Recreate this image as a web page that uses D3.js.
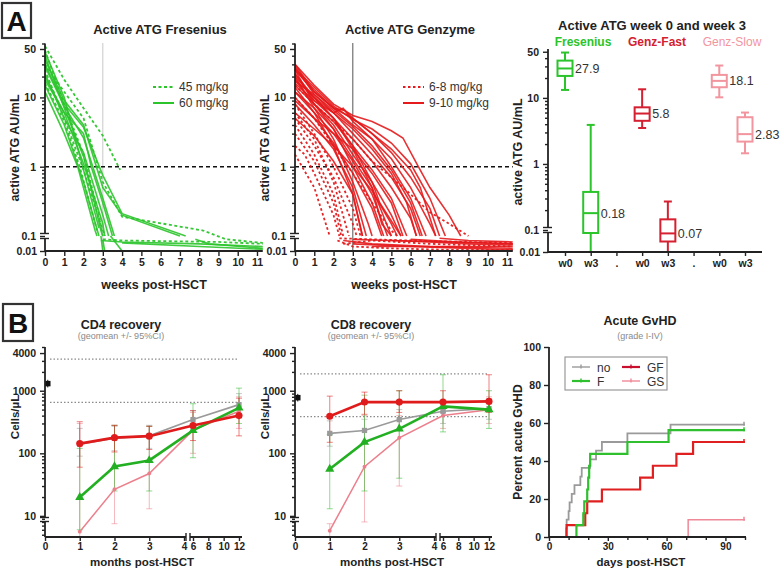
<!DOCTYPE html>
<html><head><meta charset="utf-8">
<script src="https://cdn.jsdelivr.net/npm/d3@7"></script>
<style>
body{margin:0;background:#fff;}
svg{font-family:"Liberation Sans",Arial,sans-serif;}
</style></head><body>
<svg id="c" width="780" height="578"></svg>
<script>
// ---------------- DATA ----------------
// Panel A1: active ATG Fresenius, [week, AU/mL]
const fresenius60 = [
 [[0,30],[1,8],[2,3.7],[3,0.75],[4,0.21],[7.3,0.1]],
 [[0,20],[1,6],[2,1.1],[3,0.15],[3.1,0.1]],
 [[0,40],[1,7],[2,1.4],[2.9,0.12],[3,0.1]],
 [[0,15],[1,4],[2,0.6],[2.8,0.1]],
 [[0,12],[1,3],[1.7,1],[2.6,0.12],[2.7,0.1]],
 [[0,28],[1,7.5],[2,2.6],[3,0.35],[3.6,0.1]],
 [[0,22],[1,5],[2,1.6],[3,0.2],[3.3,0.1]],
 [[0,45],[1,10],[2,0.9],[2.8,0.13]],
 [[0,18],[1,6],[2,3],[2.4,1],[3,0.3],[3.5,0.1]],
 [[0,35],[1,9],[2,4],[3,0.5],[4,0.2],[7,0.1]],
 [[2.9,0.05],[4,0.04],[8,0.03],[11.3,0.02]],
 [[3,0.05],[3.1,0.01]],
 [[2.9,0.1],[3,0.01]],
 [[3.4,0.1],[4,0.01]],
 [[7.8,0.06],[8.5,0.03],[11.3,0.015]],
 [[4,0.035],[8,0.02],[11.3,0.013]]
];
const fresenius45 = [
 [[0,55],[1,18],[2,7],[3,2.8],[3.9,0.9]],
 [[0,30],[1,12],[2,5],[3,0.6],[4,0.19],[8.2,0.12],[9.4,0.06],[11.3,0.035]],
 [[0,25],[1,5],[2,0.9],[3,0.12],[3.1,0.1]],
 [[0,16],[1,4.5],[1.8,1],[2.7,0.12]],
 [[0,48],[1,8],[2,1.5],[2.8,0.2],[3,0.1]],
 [[3,0.06],[4,0.05],[9,0.04],[11.3,0.03]]
];
// Panel A2: active ATG Genzyme
const genzyme910 = [
 [[0,30],[1,15],[2,8],[3,5.5],[4,4.5],[5,3.3],[5.6,2.6],[6.4,1],[7,0.5],[8,0.2],[8.6,0.1]],
 [[0,25],[1,12],[2,7],[3,5],[4,3],[5,1.6],[6,0.7],[7,0.25],[7.5,0.1]],
 [[0,20],[1,10],[2,6],[2.5,7],[3,4.5],[4,2.5],[5,1],[6,0.35],[6.8,0.1]],
 [[0,28],[1,11],[2,6],[3,3],[4,1.5],[5,0.7],[6,0.25],[6.5,0.1]],
 [[0,22],[1,9],[2,5],[3,2],[4,0.9],[5,0.35],[5.8,0.1]],
 [[0,18],[1,10],[2,5],[3,2.5],[4,1.2],[5,0.5],[6,0.18],[6.3,0.1]],
 [[0,15],[1,8],[2,4],[3,1.5],[4,0.6],[5,0.2],[5.5,0.1]],
 [[0,12],[1,6],[2,3],[3,1.2],[4,0.4],[4.8,0.1]],
 [[0,25],[1,8],[2,3.5],[3,1],[4,0.3],[4.6,0.1]],
 [[0,10],[1,5],[2,2.2],[3,0.8],[4,0.25],[4.5,0.1]],
 [[0,20],[1,7],[2,2.5],[3,0.6],[3.8,0.15],[4,0.1]],
 [[0,8],[1,4],[2,1.8],[3,0.5],[3.7,0.1]],
 [[0,14],[1,6],[2,2],[3,0.4],[3.5,0.1]],
 [[0,30],[1,12],[2,7],[3,4],[4,2.5],[5,1.3],[6,0.5],[7,0.15],[7.3,0.1]],
 [[0,16],[1,9],[2,6],[3,3.5],[4,1.8],[5,0.8],[5.8,0.3],[6.3,0.1]],
 [[0,6],[1,3.5],[2,2],[3,1],[4,0.45],[5,0.15],[5.3,0.1]],
 [[0,9],[1,5],[2,3],[3,1.8],[4,0.8],[5,0.3],[5.6,0.1]],
 [[0,25],[1,13],[2,7],[2.6,6.5],[3,5],[4,3],[5,1.8],[6,0.9],[6.5,0.5],[7.3,0.1]],
 [[0,18],[1,8],[2,4.5],[3,2],[4,0.6],[4.4,0.3],[5.5,0.1]],
 [[0,5],[1,2.8],[2,1.2],[3,0.4],[3.5,0.1]],
 [[0,12],[1,7],[2,3.5],[3,1.3],[4,0.5],[5,0.1]],
 [[0,22],[1,10],[2,5],[3,1.8],[4,0.5],[4.5,0.15],[5,0.1]],
 [[0,26],[1,14],[2,7.5],[3,4.8],[4,3.5],[5,2.2],[6,1.1],[7,0.35],[7.8,0.1]],
 [[0,17],[1,11],[2,6.5],[3,3.8],[4,2],[5,0.9],[6,0.3],[6.6,0.1]],
 [[3,0.06],[5,0.05],[8,0.04],[11.3,0.03]],
 [[2.5,0.05],[4,0.03],[7,0.02],[11.3,0.015]],
 [[4,0.02],[6,0.02],[9,0.015],[11.3,0.012]],
 [[5,0.05],[7,0.04],[9,0.03],[11.3,0.025]],
 [[6,0.06],[8.5,0.04],[11.3,0.03]],
 [[3,0.03],[6,0.02],[11.3,0.02]],
 [[7.5,0.07],[9,0.05],[11.3,0.04]]
];
const genzyme68 = [
 [[0,4],[1,1.5],[2,0.4],[2.5,0.1]],
 [[0,2],[0.5,1.5],[1,0.8],[2,0.2],[2.3,0.1]],
 [[0,6],[1,2.5],[2,0.6],[2.8,0.1]],
 [[0,1.5],[1,0.5],[1.8,0.1]],
 [[0,8],[1,3],[2,1],[3,0.25],[3.4,0.1]],
 [[0,3],[1,1.2],[2,0.3],[2.4,0.1]],
 [[0,10],[1,5],[2,2],[3,0.8],[4,0.3],[5,0.12],[5.3,0.1]],
 [[0,15],[1,8],[2,4.5],[3,2.5],[4,1.2],[5,0.7],[6,0.4],[7,0.22],[8,0.15],[9,0.1]],
 [[0,5],[1,2],[2,0.7],[3,0.15],[3.2,0.1]],
 [[2.2,0.05],[3,0.02],[5,0.015],[8,0.012],[11.3,0.012]],
 [[2.5,0.03],[4,0.05],[7,0.03],[11.3,0.02]],
 [[2.3,0.07],[4,0.06],[6,0.05],[9,0.04],[11.3,0.035]]
];
// Panel A3: box plots week 0 / week 3
const boxCategories = ["w0","w3",".","w0","w3",".","w0","w3"];
const boxGroups = ["Fresenius","Genz-Fast","Genz-Slow"];
const boxIndex = [0,1,3,4,6,7];
const boxGroupOf = [0,0,1,1,2,2];
const boxMin = [13.2, 0.01, 3.5, 0.01, 10.2, 1.45];
const boxQ1  = [21.5, 0.073, 4.5, 0.03, 14.5, 2.18];
const boxMed = [27.9, 0.18, 5.8, 0.07, 18.1, 2.83];
const boxQ3  = [36.7, 0.377, 7.2, 0.145, 22.3, 5.1];
const boxMax = [48.6, 3.9, 13.5, 0.27, 30.9, 6.0];
const boxLabels = ["27.9","0.18","5.8","0.07","18.1","2.83"];
// Panel B1/B2: months post-HSCT
const months = [1,2,3,6,12];
const cd4No = [140,175,190,346,600],  cd4NoLo=[90,110,120,250,400],  cd4NoHi=[250,270,280,480,900];
const cd4F  = [19.8,61.5,77,232,531], cd4FLo=[6,25,25,85,300],       cd4FHi=[120,280,270,620,1100];
const cd4GF = [143,178,188,278,401],  cd4GFLo=[60,105,115,160,190],  cd4GFHi=[320,280,270,480,760];
const cd4GS = [5.6,26.6,47.5,235,469],cd4GSLo=[4.6,7.5,13,100,250],  cd4GSHi=[300,280,270,450,800];
const cd8No = [208,232,346,469,518],  cd8NoLo=[130,150,230,300,350], cd8NoHi=[330,350,500,700,750];
const cd8F  = [56,151,246,563,499],   cd8FLo=[13,25,40,220,250],     cd8FHi=[200,850,1000,1800,1000];
const cd8GF = [391,662,658,658,676],  cd8GFLo=[150,420,450,450,450], cd8GFHi=[820,950,1000,1000,1800];
const cd8GS = [5.8,61,177,401,499],   cd8GSLo=[4.6,8,30,250,300],    cd8GSHi=[7.5,400,400,500,800];
const cd4Healthy = 1300, cd8Healthy = 775;
const cd4Ref = [3200,650], cd8Ref = [1860,386];
// Panel B3: acute GvHD cumulative incidence, [day, percent]
const gvhdNo = [[0,0],[8.7,4.5],[9,9.1],[10,13.6],[10.5,18.2],[11.6,22.7],[13,27.3],[16,31.8],[16.7,36.4],[21,40.9],[24,45.5],[27,50],[40,54.5],[62,59.1],[100,59.1]];
const gvhdF  = [[0,0],[14,6.25],[17.5,12.5],[18,18.75],[19.5,25],[20,31.25],[20.5,37.5],[21,43.75],[40,50],[61,56.25],[100,56.25]];
const gvhdGF = [[0,0],[9,6.25],[18.5,12.5],[19.5,18.75],[27,25],[46.5,31.25],[53,37.5],[65,43.75],[73.5,50],[100,50]];
const gvhdGS = [[0,0],[71,9.1],[100,9.1]];
const gvhdLegend = ["no","F","GF","GS"];

// ---------------- DRAW ----------------
const svg = d3.select("#c");
const TXT = "#222";
const GREEN = "#2bc42b", RED = "#e41a1c", PINK = "#f08a96", GRAY = "#9a9a9a";
const intFmt = d3.format("d");

function T(x,y,s,size,weight,fill,anchor,rot){
  const t = svg.append("text").attr("x",x).attr("y",y).attr("font-size",size)
    .attr("font-weight",weight||"bold").attr("fill",fill||TXT).attr("text-anchor",anchor||"middle").text(s);
  if(rot){ t.attr("transform",`rotate(-90,${x},${y})`).attr("dy","0.35em"); }
  return t;
}
function styleAxis(g, majors, fs){
  g.attr("font-family","Liberation Sans, Arial, sans-serif").attr("font-size",fs||10.5).attr("font-weight","bold");
  g.selectAll("text").attr("fill",TXT);
  g.selectAll(".tick line").attr("stroke",TXT).attr("stroke-width",1.4);
  if(majors) g.selectAll(".tick line").attr("x2", d => majors.indexOf(d)>=0 ? -5 : -3);
  g.select(".domain").remove();
}
function vline(x,y1,y2,c,w){ svg.append("line").attr("x1",x).attr("x2",x).attr("y1",y1).attr("y2",y2).attr("stroke",c||TXT).attr("stroke-width",w||1.8); }
function hline(x1,x2,y,c,w){ svg.append("line").attr("x1",x1).attr("x2",x2).attr("y1",y).attr("y2",y).attr("stroke",c||TXT).attr("stroke-width",w||1.8); }
function logMinors(maxV, minV, majors){
  const out=[];
  [0.001,0.01,0.1,1,10,100,1000].forEach(dec=>{ for(let k=2;k<=9;k++){ const v=+(k*dec).toPrecision(3); if(v>=minV && v<=maxV && majors.indexOf(v)<0) out.push(v);} });
  return out;
}
function panelBox(x,y,w,h,letter){
  svg.append("rect").attr("x",x).attr("y",y).attr("width",w).attr("height",h).attr("fill","#fff").attr("stroke","#333").attr("stroke-width",2.2);
  T(x+w/2, y+h/2+10, letter, 28, "bold", "#111");
}

// ---------- Panel A1 / A2 ----------
const yAU = d3.scaleLog().domain([0.1,60]).range([236,43.5]);
const yAL = d3.scaleLog().domain([0.01,0.1]).range([251,236]);
const yA = v => v>=0.1 ? yAU(v) : yAL(Math.max(v,0.01));

function drawYAxisBroken(x0, yU, yL, topY, breakY, botY){
  const majors=[50,10,1,0.1];
  const minors=logMinors(yU.domain()[1],0.1,majors);
  const g = svg.append("g").attr("transform",`translate(${x0},0)`)
    .call(d3.axisLeft(yU).tickValues(majors.concat(minors)).tickFormat(d=>majors.indexOf(d)>=0?String(d):"").tickSizeOuter(0).tickPadding(3));
  styleAxis(g, majors);
  const g2 = svg.append("g").attr("transform",`translate(${x0},0)`)
    .call(d3.axisLeft(yL).tickValues([0.01]).tickFormat(d=>"0.01").tickSize(5).tickPadding(3));
  styleAxis(g2);
  vline(x0, topY, breakY-2.5);
  vline(x0, breakY+2.5, botY);
  hline(x0-5, x0+4, breakY-2.5, TXT, 1.4);
  hline(x0-5, x0+4, breakY+2.5, TXT, 1.4);
}

function panelA(x0, dashed, solid, color, dashArr, vcol, title, legLabels){
  const x = d3.scaleLinear().domain([0,11]).range([x0, x0+212]);
  const line = d3.line().x(d=>x(d[0])).y(d=>yA(d[1]));
  vline(x(3), 43, 251, vcol, 1);
  svg.append("line").attr("x1",x0).attr("x2",x(11.3)).attr("y1",yA(1)).attr("y2",yA(1))
    .attr("stroke","#111").attr("stroke-width",1.5).attr("stroke-dasharray","4,3");
  svg.append("g").selectAll("path").data(solid).join("path").attr("d",line)
    .attr("fill","none").attr("stroke",color).attr("stroke-width",1.6).attr("stroke-opacity",0.9);
  svg.append("g").selectAll("path").data(dashed).join("path").attr("d",line)
    .attr("fill","none").attr("stroke",color).attr("stroke-width",1.8).attr("stroke-dasharray",dashArr).attr("stroke-opacity",0.95);
  drawYAxisBroken(x0, yAU, yAL, 43.5, 236, 251);
  const gx = svg.append("g").attr("transform","translate(0,251)")
    .call(d3.axisBottom(x).tickValues(d3.range(0,12)).tickFormat(intFmt).tickSize(5).tickPadding(3).tickSizeOuter(0));
  styleAxis(gx);
  hline(x0, x(11.3), 251);
  T(x0+115, 34, title, 13);
  T(x0+109, 289, "weeks post-HSCT", 12.5);
  T(x0-30, 148, "active ATG AU/mL", 12.5, "bold", TXT, "middle", true);
  const lx = x0+108;
  svg.append("line").attr("x1",lx).attr("x2",lx+21).attr("y1",87).attr("y2",87).attr("stroke",color).attr("stroke-width",2).attr("stroke-dasharray",dashArr);
  svg.append("line").attr("x1",lx).attr("x2",lx+21).attr("y1",103).attr("y2",103).attr("stroke",color).attr("stroke-width",2);
  T(lx+26, 91, legLabels[0], 12, "normal", "#333", "start");
  T(lx+26, 107, legLabels[1], 12, "normal", "#333", "start");
}
panelA(45, fresenius45, fresenius60, GREEN, "3,2.5", "#c8c8c8", "Active ATG Fresenius", ["45 mg/kg","60 mg/kg"]);
panelA(295, genzyme68, genzyme910, RED, "2.5,2.5", "#555", "Active ATG Genzyme", ["6-8 mg/kg","9-10 mg/kg"]);
panelBox(2,3,29,35,"A");

// ---------- Panel A3 ----------
{
  const yU = d3.scaleLog().domain([0.1,55]).range([230,49]);
  const yL = d3.scaleLog().domain([0.01,0.1]).range([252,230]);
  const y = v => v>=0.1 ? yU(v) : yL(Math.max(v,0.01));
  const x = d3.scalePoint().domain(d3.range(boxCategories.length)).range([565,745]);
  const cols = [GREEN, "#d42030", "#f2959e"];
  const bw = 15, cw = 8;
  boxIndex.forEach((ci,i)=>{
    const cx = x(ci), c = cols[boxGroupOf[i]];
    const g = svg.append("g").attr("stroke",c).attr("stroke-width",2).attr("fill","none");
    g.append("line").attr("x1",cx).attr("x2",cx).attr("y1",y(boxMax[i])).attr("y2",y(boxQ3[i]));
    g.append("line").attr("x1",cx).attr("x2",cx).attr("y1",y(boxQ1[i])).attr("y2",y(boxMin[i]));
    g.append("line").attr("x1",cx-cw/2).attr("x2",cx+cw/2).attr("y1",y(boxMax[i])).attr("y2",y(boxMax[i]));
    if(boxMin[i]>0.01) g.append("line").attr("x1",cx-cw/2).attr("x2",cx+cw/2).attr("y1",y(boxMin[i])).attr("y2",y(boxMin[i]));
    g.append("rect").attr("x",cx-bw/2).attr("y",y(boxQ3[i])).attr("width",bw).attr("height",y(boxQ1[i])-y(boxQ3[i])).attr("fill","#fff");
    g.append("line").attr("x1",cx-bw/2).attr("x2",cx+bw/2).attr("y1",y(boxMed[i])).attr("y2",y(boxMed[i]));
    T(cx+10, y(boxMed[i])+4.5, boxLabels[i], 12.5, "normal", "#333", "start");
  });
  drawYAxisBroken(548, yU, yL, 49, 230, 252);
  const gx = svg.append("g").attr("transform","translate(0,252)")
    .call(d3.axisBottom(x).tickFormat(i=>boxCategories[i]).tickSize(4).tickPadding(4).tickSizeOuter(0));
  styleAxis(gx);
  hline(548, 762, 252);
  T(652, 30, "Active ATG week 0 and week 3", 13);
  T(583, 46, boxGroups[0], 12, "bold", GREEN);
  T(657, 46, boxGroups[1], 12, "bold", "#d42030");
  T(732, 46, boxGroups[2], 12, "normal", "#f2959e");
  T(518, 152, "active ATG AU/mL", 12.5, "bold", TXT, "middle", true);
}

// ---------- Panel B1 / B2 ----------
const yC = d3.scaleLog().domain([4.6,5000]).range([537,347]);
function panelB(x0, title, series, healthy, refs){
  const xa = d3.scaleLinear().domain([0,4]).range([x0, x0+139]);
  const xb = d3.scaleLinear().domain([6,12]).range([x0+148, x0+194]);
  const xm = m => m<=4 ? xa(m) : xb(m);
  refs.forEach(r=>{
    svg.append("line").attr("x1",x0+5).attr("x2",x0+194).attr("y1",yC(r)).attr("y2",yC(r))
      .attr("stroke","#8a8a8a").attr("stroke-width",1.3).attr("stroke-dasharray","1.5,2");
  });
  series.forEach(s=>{
    const g = svg.append("g").attr("stroke",s.ec).attr("stroke-width",1).attr("stroke-opacity",0.55);
    months.forEach((m,i)=>{
      const cx = xm(m), lo = Math.max(s.lo[i],4.6), hi = s.hi[i];
      g.append("line").attr("x1",cx).attr("x2",cx).attr("y1",yC(lo)).attr("y2",yC(hi));
      g.append("line").attr("x1",cx-3).attr("x2",cx+3).attr("y1",yC(hi)).attr("y2",yC(hi));
      if(s.lo[i]>4.6) g.append("line").attr("x1",cx-3).attr("x2",cx+3).attr("y1",yC(lo)).attr("y2",yC(lo));
    });
  });
  const line = d3.line().x(d=>xm(d[0])).y(d=>yC(Math.max(d[1],4.6)));
  series.forEach(s=>{
    const pts = months.map((m,i)=>[m,s.v[i]]);
    svg.append("path").attr("d",line(pts)).attr("fill","none").attr("stroke",s.c).attr("stroke-width",s.w);
    svg.append("g").selectAll("path").data(pts).join("path")
      .attr("transform",d=>`translate(${xm(d[0])},${yC(d[1])})`)
      .attr("d",d3.symbol().type(s.sym).size(s.size)).attr("fill",s.c);
  });
  const hx = xa(0.08);
  svg.append("path").attr("transform",`translate(${hx},${yC(healthy)})`).attr("d",d3.symbol().type(d3.symbolSquare).size(30)).attr("fill","#111");
  vline(hx, yC(healthy*1.15), yC(healthy*0.87), "#111", 1);
  const majors=[10,100,1000,4000];
  const minors=logMinors(5000,4.6,majors).filter(v=>v!==4000);
  const gy = svg.append("g").attr("transform",`translate(${x0},0)`)
    .call(d3.axisLeft(yC).tickValues(majors.concat(minors)).tickFormat(d=>majors.indexOf(d)>=0?String(d):"").tickSizeOuter(0).tickPadding(3));
  styleAxis(gy, majors);
  vline(x0, 347, 517.5);
  vline(x0, 521.5, 537);
  hline(x0-5, x0+4, 517.5, TXT, 1.4);
  hline(x0-5, x0+4, 521.5, TXT, 1.4);
  const g1 = svg.append("g").attr("transform","translate(0,537)").call(d3.axisBottom(xa).tickValues([0,1,2,3,4]).tickFormat(intFmt).tickSize(4).tickPadding(2).tickSizeOuter(0));
  styleAxis(g1, null, 10);
  const g2 = svg.append("g").attr("transform","translate(0,537)").call(d3.axisBottom(xb).tickValues([6,8,10,12]).tickFormat(intFmt).tickSize(4).tickPadding(2).tickSizeOuter(0));
  styleAxis(g2, null, 10);
  hline(x0, x0+141, 537);
  hline(x0+145, x0+197, 537);
  vline(x0+141, 533, 541, TXT, 1.4);
  vline(x0+145, 533, 541, TXT, 1.4);
  T(x0+76, 329, title, 12.5);
  T(x0+76, 339, "(geomean +/- 95%CI)", 9, "normal", "#8a8a8a");
  T(x0+97, 566, "months post-HSCT", 11.5);
  T(x0-30, 417, "Cells/µL", 11.5, "bold", TXT, "middle", true);
}
panelB(45, "CD4 recovery", [
  {v:cd4GS, lo:cd4GSLo, hi:cd4GSHi, c:"#ec7f8c", ec:"#ec7f8c", w:1.5, sym:d3.symbolCircle, size:12},
  {v:cd4No, lo:cd4NoLo, hi:cd4NoHi, c:GRAY, ec:GRAY, w:1.6, sym:d3.symbolSquare, size:28},
  {v:cd4F,  lo:cd4FLo,  hi:cd4FHi,  c:"#22b022", ec:"#33bb33", w:2.6, sym:d3.symbolTriangle, size:36},
  {v:cd4GF, lo:cd4GFLo, hi:cd4GFHi, c:"#e01b1b", ec:"#e01b1b", w:2.6, sym:d3.symbolCircle, size:40}
], cd4Healthy, cd4Ref);
panelB(295, "CD8 recovery", [
  {v:cd8GS, lo:cd8GSLo, hi:cd8GSHi, c:"#ec7f8c", ec:"#ec7f8c", w:1.5, sym:d3.symbolCircle, size:12},
  {v:cd8No, lo:cd8NoLo, hi:cd8NoHi, c:GRAY, ec:GRAY, w:1.6, sym:d3.symbolSquare, size:28},
  {v:cd8F,  lo:cd8FLo,  hi:cd8FHi,  c:"#22b022", ec:"#33bb33", w:2.6, sym:d3.symbolTriangle, size:36},
  {v:cd8GF, lo:cd8GFLo, hi:cd8GFHi, c:"#e01b1b", ec:"#e01b1b", w:2.6, sym:d3.symbolCircle, size:40}
], cd8Healthy, cd8Ref);
panelBox(3,304,30,37,"B");

// ---------- Panel B3 ----------
{
  const x = d3.scaleLinear().domain([0,100]).range([549,745]);
  const y = d3.scaleLinear().domain([0,100]).range([537,347]);
  const step = d3.line().x(d=>x(d[0])).y(d=>y(d[1])).curve(d3.curveStepAfter);
  const ser = [
    {d:gvhdGS, c:"#f08898", w:1.5},
    {d:gvhdNo, c:GRAY, w:1.8},
    {d:gvhdGF, c:"#e02020", w:2.2},
    {d:gvhdF,  c:"#2fbf2f", w:2.2}
  ];
  ser.forEach(s=>{
    svg.append("path").attr("d",step(s.d)).attr("fill","none").attr("stroke",s.c).attr("stroke-width",s.w);
    const last = s.d[s.d.length-1];
    vline(x(last[0])-1, y(last[1])-3, y(last[1])+1, s.c, 1.5);
  });
  const gy = svg.append("g").attr("transform","translate(549,0)")
    .call(d3.axisLeft(y).tickValues([0,20,40,60,80,100]).tickFormat(intFmt).tickSize(5).tickPadding(3).tickSizeOuter(0));
  styleAxis(gy);
  vline(549, 347, 537);
  const gx = svg.append("g").attr("transform","translate(0,537)")
    .call(d3.axisBottom(x).tickValues(d3.range(0,101,10)).tickFormat(d=>d%30===0?String(d):"").tickSize(4).tickPadding(2).tickSizeOuter(0));
  styleAxis(gx, null, 10);
  gx.selectAll(".tick line").attr("y2",d=>d%30===0?4:3);
  hline(549, 746, 537);
  T(640, 325, "Acute GvHD", 12.5);
  T(640, 339, "(grade I-IV)", 9, "normal", "#8a8a8a");
  T(641, 566, "days post-HSCT", 11.5);
  T(518, 442, "Percent acute GvHD", 12, "bold", TXT, "middle", true);
  svg.append("rect").attr("x",565).attr("y",357).attr("width",102).attr("height",33).attr("fill","#fff").attr("stroke","#9a9a9a").attr("stroke-width",1.2);
  const lc = [GRAY, "#2fbf2f", "#c8102e", "#f08898"];
  const lpos = [[572,367],[572,381],[622,367],[622,381]];
  gvhdLegend.forEach((n,i)=>{
    const [lx,ly] = lpos[i];
    hline(lx, lx+18, ly, lc[i], i===0||i===3?1.4:2.2);
    vline(lx+9, ly-2.5, ly+1.5, lc[i], 1.4);
    T(lx+25, ly+4.5, n, 12, "normal", "#333", "start");
  });
}
</script>
</body></html>
